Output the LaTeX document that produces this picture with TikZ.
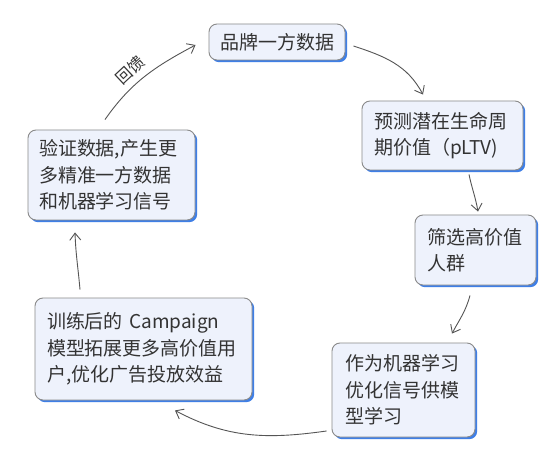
\documentclass[tikz,border=0pt]{standalone}
\usepackage{fontspec}
\setmainfont{Noto Sans CJK SC}
\usetikzlibrary{arrows.meta,shadows}
\definecolor{boxfill}{HTML}{EEF2FC}
\definecolor{boxline}{HTML}{8A8A8A}
\definecolor{shadowblue}{HTML}{3F7FE6}
\definecolor{txt}{HTML}{333333}
\definecolor{arr}{HTML}{555555}
\tikzset{
  box/.style={draw=boxline, line width=0.9pt, fill=boxfill, rounded corners=8pt,
    inner xsep=0pt, inner ysep=0pt, align=left, text=txt,
    font=\fontsize{19}{26.5}\selectfont,
    drop shadow={shadow xshift=2.2pt, shadow yshift=-2.2pt, fill=shadowblue, opacity=1}},
  conn/.style={draw=arr, line width=0.9pt, -{Straight Barb[length=7pt,width=11pt,line width=0.9pt]}}
}
\begin{document}
\begin{tikzpicture}[x=1pt,y=1pt]
\useasboundingbox[fill=white] (0,0) rectangle (558,-452);
\node[box, minimum width=136pt, minimum height=36pt, text width=114pt] (b1) at (277,-42) {品牌一方数据};
\node[box, minimum width=161pt, minimum height=69pt, text width=137pt] (b2) at (442.5,-135.5) {预测潜在生命周\\期价值（pLTV)};
\node[box, minimum width=121pt, minimum height=70pt, text width=97pt] (b3) at (475.5,-250) {筛选高价值\\人群};
\node[box, minimum width=143pt, minimum height=94pt, text width=117pt] (b4) at (403.5,-390) {作为机器学习\\优化信号供模\\型学习};
\node[box, minimum width=217pt, minimum height=102pt, text width=193pt] (b5) at (143.5,-349) {训练后的 Campaign\\模型拓展更多高价值用\\户,优化广告投放效益};
\node[box, minimum width=167pt, minimum height=90pt, text width=145pt] (b6) at (111.5,-175) {验证数据,产生更\\多精准一方数据\\和机器学习信号};

\draw[conn] ([xshift=8pt,yshift=-4pt]b1.east) to[out=-18,in=118] ([xshift=-19.5pt,yshift=6pt]b2.north);
\draw[conn] ([xshift=26.5pt,yshift=-4pt]b2.south) to[out=-78,in=100] ([xshift=2.5pt,yshift=3pt]b3.north);
\draw[conn] ([xshift=-5.5pt,yshift=-10pt]b3.south) to[out=-105,in=62] ([xshift=48.5pt,yshift=9pt]b4.north);
\draw[conn] ([xshift=-5pt,yshift=-41pt]b4.west) to[out=188,in=-28] ([xshift=31.5pt,yshift=-10pt]b5.south);
\draw[conn] ([xshift=-63.5pt,yshift=8pt]b5.north) to[out=95,in=-88] ([xshift=-36.5pt,yshift=-12pt]b6.south);
\draw[conn] ([xshift=-6.5pt,yshift=10pt]b6.north) to[out=55,in=208] ([xshift=-13pt,yshift=-3pt]b1.west);
\node[rotate=43, font=\fontsize{16}{16}\selectfont, text=txt, inner sep=1pt] (fb) at (130,-70) {回馈};
\end{tikzpicture}
\end{document}
